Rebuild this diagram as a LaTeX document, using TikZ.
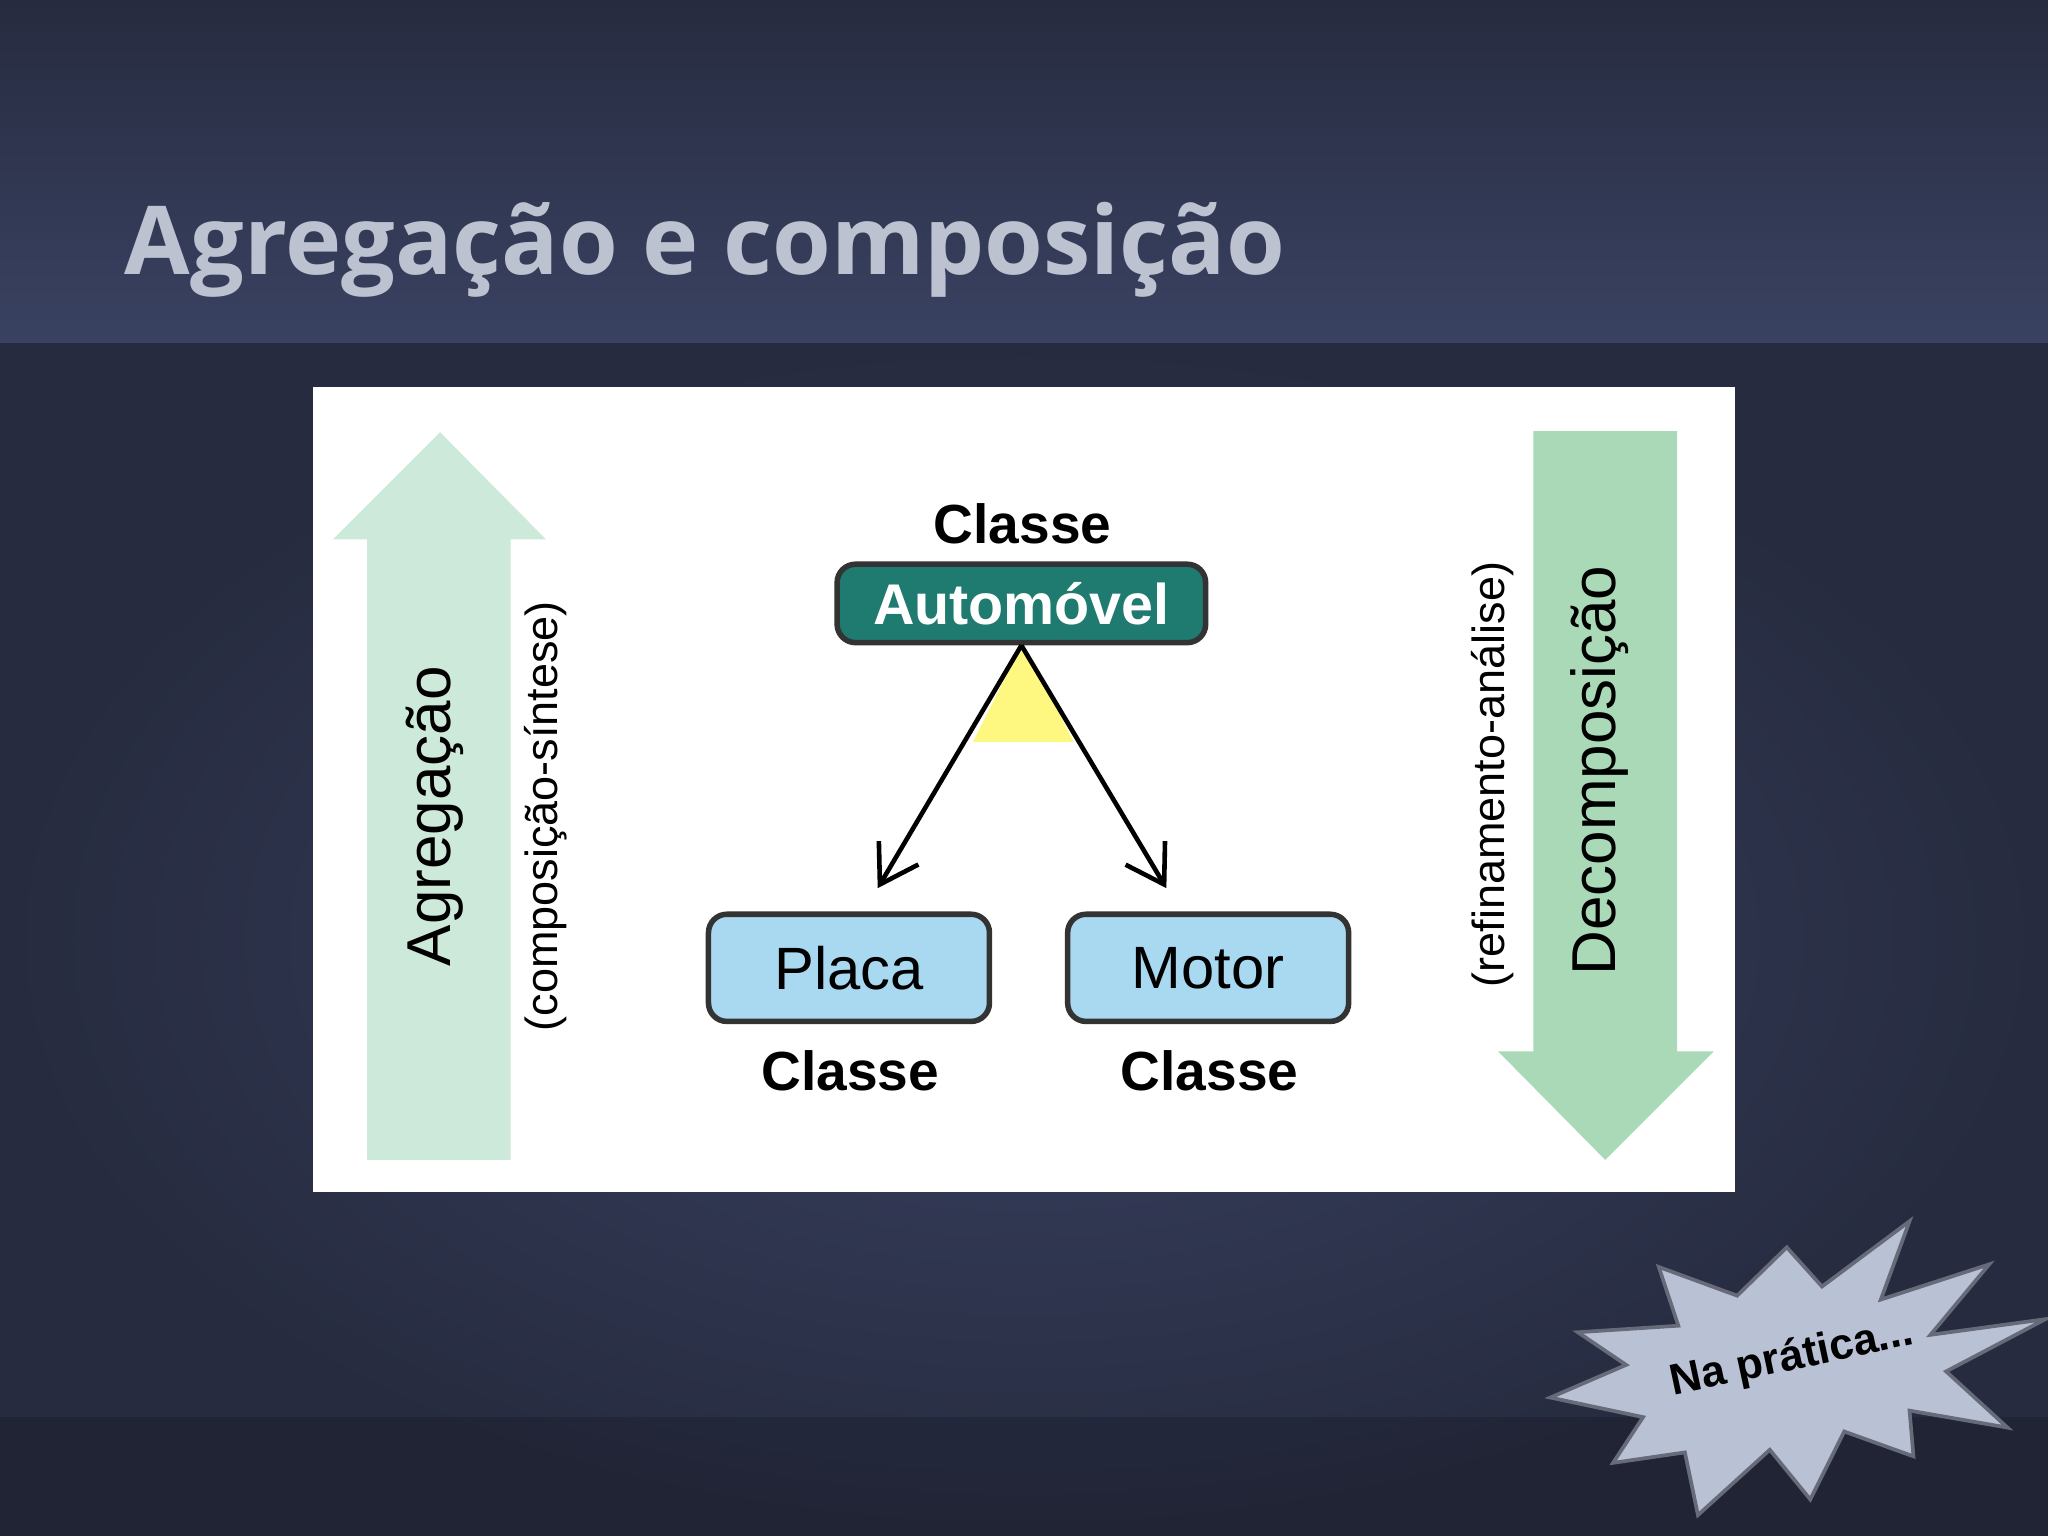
\documentclass[tikz,border=0pt]{standalone}
\usetikzlibrary{arrows.meta}
\usepackage{fontspec}
\setmainfont{Liberation Sans}
\newfontfamily\titlefont{Open Sans}
\definecolor{bgdark}{HTML}{262B3F}
\definecolor{bgmid}{HTML}{3A4262}
\definecolor{titlec}{HTML}{BCC2D0}
\definecolor{arrowl}{HTML}{CDE9D9}
\definecolor{arrowr}{HTML}{A9D9B7}
\definecolor{teal}{HTML}{1F7A6F}
\definecolor{lblue}{HTML}{A9D8F1}
\definecolor{burst}{HTML}{B9C1D5}
\begin{document}
\begin{tikzpicture}[x=0.01cm,y=-0.01cm,
  cls/.style={font=\bfseries\fontsize{12}{14}\selectfont},
  sub/.style={draw=black!80,line width=1.2pt,rounded corners=4pt,fill=lblue,minimum width=2.15cm,minimum height=0.82cm,font=\fontsize{13}{15}\selectfont},
  vtext/.style={rotate=90,font=\fontsize{9.8}{12}\selectfont}]
\useasboundingbox (0,0) rectangle (1568,1176);
\fill[bgdark] (0,0) rectangle (1568,1176);
\shade[inner color=bgmid,outer color=bgdark] (0,262) rectangle (1568,1176);
\shade[top color=bgdark,bottom color=bgmid] (0,0) rectangle (1568,262);
\fill[black,opacity=0.15] (0,1085) rectangle (1568,1176);
\node[anchor=base west,text=titlec,inner sep=0,font=\titlefont\bfseries\fontsize{20.7}{24}\selectfont] (title) at (95,210) {Agregação e composição};
\fill[white] (240,296) rectangle (1328,913);
% arrows
\fill[arrowl] (281,888) -- (281,413) -- (255,413) -- (337,331) -- (418,413) -- (391,413) -- (391,888) -- cycle;
\fill[arrowr] (1174,330) -- (1174,805) -- (1147,805) -- (1229,888) -- (1312,805) -- (1284,805) -- (1284,330) -- cycle;
\node[vtext,font=\fontsize{13.5}{15}\selectfont] (ag) at (333,625) {Agregação};
\node[vtext] (cs) at (418,625) {(composição-síntese)};
\node[vtext] (ra) at (1143,593) {(refinamento-análise)};
\node[vtext,font=\fontsize{13.5}{15}\selectfont] (dc) at (1225,590) {Decomposição};
% yellow triangle
\fill[yellow!50] (783,492) -- (745,568) -- (822,568) -- cycle;
\node[draw=black!80,line width=1.2pt,rounded corners=4pt,fill=teal,text=white,minimum width=2.82cm,minimum height=0.6cm,font=\bfseries\fontsize{12.5}{14}\selectfont] (auto) at (782,462) {Automóvel};
\node[cls] (c1) at (783,401) {Classe};
\node[sub] (placa) at (650,741) {Placa};
\node[sub] (motor) at (925,741) {Motor};
\node[cls] (c2) at (651,820) {Classe};
\node[cls] (c3) at (926,820) {Classe};
\coordinate (pa) at (672,680);
\coordinate (ma) at (893,680);
\draw[line width=1pt,-{Straight Barb[length=8pt,width=10pt]}] (auto.south) -- (pa);
\draw[line width=1pt,-{Straight Barb[length=8pt,width=10pt]}] (auto.south) -- (ma);
% starburst
\fill[burst,draw=bgdark!70,line width=0.8pt] (1462,935) -- (1440,995) -- (1523,968) -- (1478,1022) -- (1566,1010) -- (1490,1050) -- (1537,1093) -- (1462,1080) -- (1465,1115) -- (1412,1096) -- (1386,1148) -- (1355,1110) -- (1300,1160) -- (1290,1112) -- (1235,1120) -- (1258,1085) -- (1187,1070) -- (1245,1045) -- (1208,1020) -- (1285,1015) -- (1270,970) -- (1330,992) -- (1368,955) -- (1395,985) -- cycle;
\node[rotate=12,font=\bfseries\fontsize{9.5}{11}\selectfont] (np) at (1372,1040) {Na prática...};
\end{tikzpicture}
\end{document}
